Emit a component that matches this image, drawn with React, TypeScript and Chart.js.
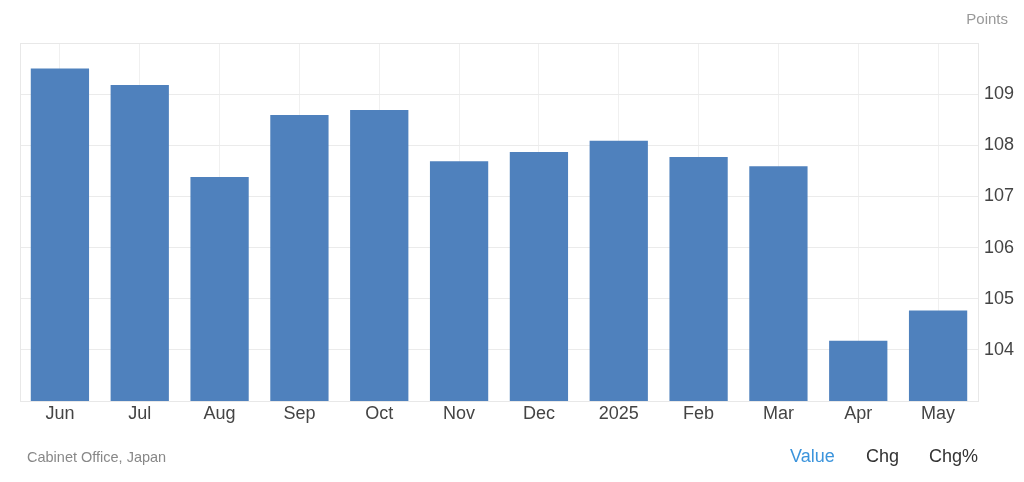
import React, { useEffect, useRef } from "react";
import { Chart, registerables } from "chart.js";

Chart.register(...registerables);

const categories = ["Jun", "Jul", "Aug", "Sep", "Oct", "Nov", "Dec", "2025", "Feb", "Mar", "Apr", "May"];
const values = [109.5, 109.18, 107.38, 108.59, 108.69, 107.69, 107.87, 108.09, 107.77, 107.59, 104.18, 104.77];
const yMin = 103;
const yMax = 110;
const unitLabel = "Points";
const sourceLabel = "Cabinet Office, Japan";
const tabLabels = ["Value", "Chg", "Chg%"];

const FONT = "'Liberation Sans', Arial, sans-serif";

const boxPlugin = {
  id: "boxPlugin",
  beforeDatasetsDraw(chart: any) {
    const { ctx, chartArea } = chart;
    ctx.save();
    ctx.strokeStyle = "#e8e8e8";
    ctx.lineWidth = 1;
    ctx.strokeRect(chartArea.left + 0.5, chartArea.top + 0.5, chartArea.right - chartArea.left, chartArea.bottom - chartArea.top);
    ctx.restore();
  },
};

export default function App() {
  const ref = useRef<HTMLCanvasElement | null>(null);

  useEffect(() => {
    document.body.style.margin = "0";
    const canvas = ref.current;
    if (!canvas) return;
    const chart = new Chart(canvas, {
      type: "bar",
      data: {
        labels: categories,
        datasets: [
          {
            data: values,
            backgroundColor: "#4f81bd",
            borderWidth: 0,
            barPercentage: 0.73,
            categoryPercentage: 1,
          },
        ],
      },
      options: {
        animation: false,
        responsive: false,
        maintainAspectRatio: false,
        layout: { padding: { left: 20, top: 43, right: 0, bottom: 51 } },
        plugins: { legend: { display: false }, tooltip: { enabled: false } },
        scales: {
          x: {
            grid: { display: true, offset: false, color: "#f0f0f0", drawTicks: false },
            border: { display: false },
            ticks: { color: "#444", font: { family: FONT, size: 18 }, padding: 2, maxRotation: 0, autoSkip: false },
            afterFit(scale: any) {
              scale.height = 30;
            },
          },
          y: {
            position: "right",
            min: yMin,
            max: yMax,
            grid: { color: "#ebebeb", drawTicks: false },
            border: { display: false },
            ticks: {
              stepSize: 1,
              color: "#444",
              font: { family: FONT, size: 18 },
              padding: 6,
              callback: (v: any) => (v === yMin || v === yMax ? "" : String(v)),
            },
            afterFit(scale: any) {
              scale.width = 46;
            },
          },
        },
      },
      plugins: [boxPlugin],
    });
    return () => chart.destroy();
  }, []);

  return (
    <div style={{ position: "relative", width: 1024, height: 482, background: "#fff", fontFamily: FONT }}>
      <canvas ref={ref} width={1024} height={482} style={{ position: "absolute", left: 0, top: 0 }} />
      <div style={{ position: "absolute", right: 16, top: 10, fontSize: 15, color: "#999" }}>{unitLabel}</div>
      <div style={{ position: "absolute", left: 27, top: 449, fontSize: 14.5, color: "#888" }}>{sourceLabel}</div>
      <div style={{ position: "absolute", left: 790, top: 446, fontSize: 18, color: "#3b94dc" }}>{tabLabels[0]}</div>
      <div style={{ position: "absolute", left: 866, top: 446, fontSize: 18, color: "#333" }}>{tabLabels[1]}</div>
      <div style={{ position: "absolute", left: 929, top: 446, fontSize: 18, color: "#333" }}>{tabLabels[2]}</div>
    </div>
  );
}
